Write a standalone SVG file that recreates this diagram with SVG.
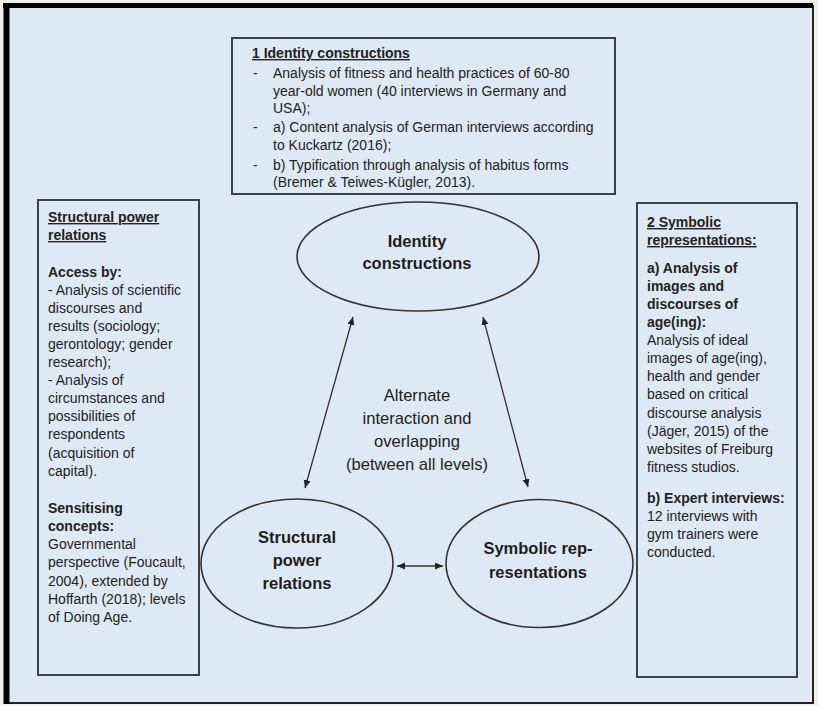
<svg xmlns="http://www.w3.org/2000/svg" width="818" height="706" viewBox="0 0 818 706">
  <style>
    .t { font-family: "Liberation Sans", Arial, sans-serif; font-size: 14px; fill: #222; }
    .b { font-weight: bold; }
    .u { text-decoration: underline; }
    .box { fill: none; stroke: #3c424a; stroke-width: 2; }
    .oval { fill: none; stroke: #333; stroke-width: 1.6; }
    .lbl { font-family: "Liberation Sans", Arial, sans-serif; font-size: 16.5px; font-weight: bold; fill: #1e1e1e; text-anchor: middle; }
    .mid { font-family: "Liberation Sans", Arial, sans-serif; font-size: 16.6px; fill: #222; text-anchor: middle; }
    .link { stroke: #333; stroke-width: 1.3; fill: none; }
  </style>
  <defs>
    <marker id="arrow" markerUnits="userSpaceOnUse" markerWidth="9" markerHeight="8" refX="8" refY="3.5" orient="auto-start-reverse">
      <path d="M0,0 L8,3.5 L0,7 z" fill="#222"/>
    </marker>
  </defs>

  <!-- page and frame -->
  <rect x="0" y="0" width="818" height="706" fill="#f1f0ec"/>
  <rect x="6" y="6" width="807" height="697" fill="#dde9f5" stroke="#222" stroke-width="2"/>
  <line x1="3" y1="5.5" x2="813" y2="5.5" stroke="#000" stroke-width="5"/>
  <line x1="6.5" y1="3" x2="6.5" y2="704" stroke="#000" stroke-width="6"/>

  <!-- method box: identity constructions -->
  <g id="box-identity">
    <rect class="box" x="232" y="38" width="383" height="156"/>
    <text class="t b u" x="252" y="58">1 Identity constructions</text>
    <text class="t" x="253" y="78">-</text>
    <text class="t" x="273" y="78">Analysis of fitness and health practices of 60-80</text>
    <text class="t" x="273" y="96">year-old women (40 interviews in Germany and</text>
    <text class="t" x="273" y="113">USA);</text>
    <text class="t" x="253" y="132">-</text>
    <text class="t" x="273" y="132">a) Content analysis of German interviews according</text>
    <text class="t" x="273" y="150">to Kuckartz (2016);</text>
    <text class="t" x="253" y="170">-</text>
    <text class="t" x="273" y="170">b) Typification through analysis of habitus forms</text>
    <text class="t" x="273" y="187">(Bremer &amp; Teiwes-Kügler, 2013).</text>
  </g>

  <!-- method box: structural power relations -->
  <g id="box-structural">
    <rect class="box" x="38" y="200" width="161" height="475"/>
    <text class="t b u" x="48" y="222">Structural power</text>
    <text class="t b u" x="48" y="240">relations</text>
    <text class="t b" x="48" y="277">Access by:</text>
    <text class="t" x="48" y="295">- Analysis of scientific</text>
    <text class="t" x="48" y="313">discourses and</text>
    <text class="t" x="48" y="331">results (sociology;</text>
    <text class="t" x="48" y="349">gerontology; gender</text>
    <text class="t" x="48" y="367">research);</text>
    <text class="t" x="48" y="385">- Analysis of</text>
    <text class="t" x="48" y="403">circumstances and</text>
    <text class="t" x="48" y="421">possibilities of</text>
    <text class="t" x="48" y="439">respondents</text>
    <text class="t" x="48" y="458">(acquisition of</text>
    <text class="t" x="48" y="476">capital).</text>
    <text class="t b" x="48" y="513">Sensitising</text>
    <text class="t b" x="48" y="531">concepts:</text>
    <text class="t" x="48" y="549">Governmental</text>
    <text class="t" x="48" y="567">perspective (Foucault,</text>
    <text class="t" x="48" y="586">2004), extended by</text>
    <text class="t" x="48" y="604">Hoffarth (2018); levels</text>
    <text class="t" x="48" y="622">of Doing Age.</text>
  </g>

  <!-- method box: symbolic representations -->
  <g id="box-symbolic">
    <rect class="box" x="637" y="203" width="160" height="474"/>
    <text class="t b u" x="647" y="227">2 Symbolic</text>
    <text class="t b u" x="647" y="245">representations:</text>
    <text class="t b" x="647" y="273">a) Analysis of</text>
    <text class="t b" x="647" y="291">images and</text>
    <text class="t b" x="647" y="309">discourses of</text>
    <text class="t b" x="647" y="327">age(ing):</text>
    <text class="t" x="647" y="345">Analysis of ideal</text>
    <text class="t" x="647" y="363">images of age(ing),</text>
    <text class="t" x="647" y="381">health and gender</text>
    <text class="t" x="647" y="399">based on critical</text>
    <text class="t" x="647" y="418">discourse analysis</text>
    <text class="t" x="647" y="436">(Jäger, 2015) of the</text>
    <text class="t" x="647" y="454">websites of Freiburg</text>
    <text class="t" x="647" y="472">fitness studios.</text>
    <text class="t b" x="647" y="503">b) Expert interviews:</text>
    <text class="t" x="647" y="521">12 interviews with</text>
    <text class="t" x="647" y="539">gym trainers were</text>
    <text class="t" x="647" y="557">conducted.</text>
  </g>

  <!-- level ovals -->
  <g id="node-identity">
    <ellipse class="oval" cx="418" cy="256.5" rx="121" ry="54.5"/>
    <text class="lbl" x="417" y="247">Identity</text>
    <text class="lbl" x="417" y="269">constructions</text>
  </g>
  <g id="node-structural">
    <ellipse class="oval" cx="297" cy="563.5" rx="96" ry="64.5"/>
    <text class="lbl" x="297" y="543">Structural</text>
    <text class="lbl" x="297" y="566">power</text>
    <text class="lbl" x="297" y="589">relations</text>
  </g>
  <g id="node-symbolic">
    <ellipse class="oval" cx="539.5" cy="563.5" rx="93.5" ry="64"/>
    <text class="lbl" x="538" y="554">Symbolic rep-</text>
    <text class="lbl" x="538" y="578">resentations</text>
  </g>

  <!-- interaction label -->
  <g id="label-interaction">
    <text class="mid" x="417" y="401">Alternate</text>
    <text class="mid" x="417" y="424">interaction and</text>
    <text class="mid" x="417" y="447">overlapping</text>
    <text class="mid" x="417" y="470">(between all levels)</text>
  </g>

  <!-- two-way connectors between the levels -->
  <g id="connectors">
    <line class="link" x1="353" y1="317" x2="305" y2="488" marker-start="url(#arrow)" marker-end="url(#arrow)"/>
    <line class="link" x1="483" y1="317" x2="528" y2="487" marker-start="url(#arrow)" marker-end="url(#arrow)"/>
    <line class="link" x1="397" y1="566" x2="443" y2="566" marker-start="url(#arrow)" marker-end="url(#arrow)"/>
  </g>
</svg>
